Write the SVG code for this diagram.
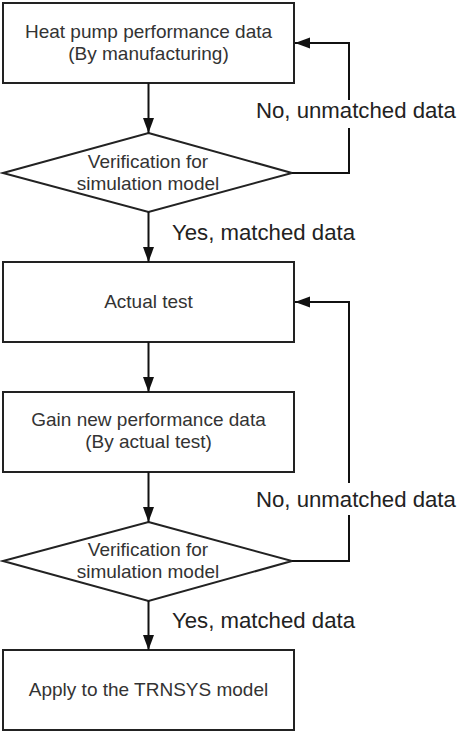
<svg xmlns="http://www.w3.org/2000/svg" width="464" height="734" viewBox="0 0 464 734">
<style>
.box{fill:#fff;stroke:#222;stroke-width:2}
.t{font-family:"Liberation Sans",Arial,sans-serif;font-size:19px;fill:#333;text-anchor:middle}
.lbl{font-family:"Liberation Sans",Arial,sans-serif;font-size:22.2px;fill:#222}
.c{fill:none;stroke:#111;stroke-width:2}
</style>
<defs>
<marker id="ah" markerUnits="userSpaceOnUse" markerWidth="16" markerHeight="12" refX="15" refY="6" orient="auto">
<path d="M0,0.5 L15,6 L0,11.5 Z" fill="#111"/>
</marker>
</defs>
<rect width="464" height="734" fill="#fff"/>
<g id="n1"><rect class="box" x="3" y="3" width="291" height="80"/>
<text class="t" x="148.5" y="37.5">Heat pump performance data</text>
<text class="t" x="148.5" y="60">(By manufacturing)</text></g>
<g id="d1"><polygon class="box" points="148.5,133 292,173 148.5,212 3,173"/>
<text class="t" x="148" y="168">Verification for</text>
<text class="t" x="148" y="190">simulation model</text></g>
<g id="n2"><rect class="box" x="3" y="262" width="291" height="80"/>
<text class="t" x="148.5" y="308">Actual test</text></g>
<g id="n3"><rect class="box" x="3" y="392" width="291" height="80"/>
<text class="t" x="148.5" y="426">Gain new performance data</text>
<text class="t" x="148.5" y="448">(By actual test)</text></g>
<g id="d2"><polygon class="box" points="148.5,522 292,561 148.5,601 3,561"/>
<text class="t" x="148" y="556">Verification for</text>
<text class="t" x="148" y="578">simulation model</text></g>
<g id="n4"><rect class="box" x="3" y="650" width="291" height="80"/>
<text class="t" x="148.5" y="696">Apply to the TRNSYS model</text></g>
<g id="connectors">
<line class="c" x1="148.5" y1="83" x2="148.5" y2="133" marker-end="url(#ah)"/>
<line class="c" x1="148.5" y1="212" x2="148.5" y2="262" marker-end="url(#ah)"/>
<line class="c" x1="148.5" y1="342" x2="148.5" y2="392" marker-end="url(#ah)"/>
<line class="c" x1="148.5" y1="472" x2="148.5" y2="522" marker-end="url(#ah)"/>
<line class="c" x1="148.5" y1="601" x2="148.5" y2="650" marker-end="url(#ah)"/>
<polyline class="c" points="292,173 349,173 349,128"/>
<polyline class="c" points="349,100 349,43 295,43" marker-end="url(#ah)"/>
<polyline class="c" points="292,561 349,561 349,515"/>
<polyline class="c" points="349,483 349,302 295,302" marker-end="url(#ah)"/>
<text class="lbl" x="256" y="118">No, unmatched data</text>
<text class="lbl" x="172" y="240">Yes, matched data</text>
<text class="lbl" x="256" y="507">No, unmatched data</text>
<text class="lbl" x="172" y="628">Yes, matched data</text>
</g>
</svg>
